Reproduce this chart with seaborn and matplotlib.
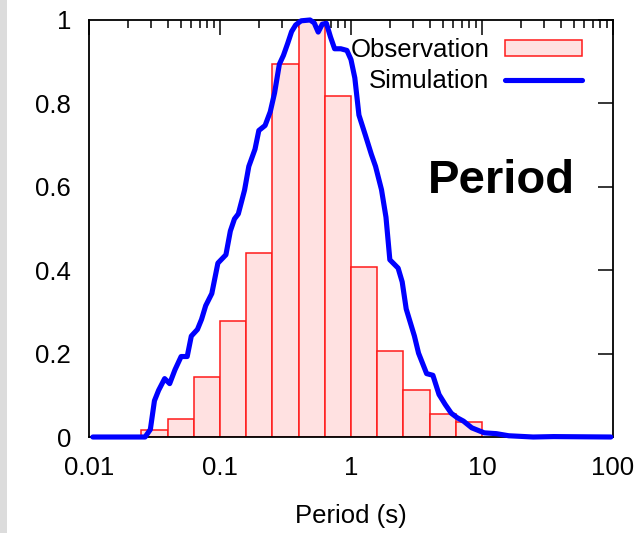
import numpy as np
import pandas as pd
import matplotlib
matplotlib.use("Agg")
import matplotlib.pyplot as plt
from matplotlib.patches import Rectangle
from matplotlib.ticker import FixedLocator, LogLocator, NullFormatter
import seaborn as sns

# Observed period histogram: bin edges (s) and normalised heights
obs_edges = [0.0251, 0.0398, 0.0631, 0.1, 0.158, 0.251, 0.398, 0.631,
             1.0, 1.58, 2.51, 3.98, 6.31, 10.0]
obs_heights = [0.016, 0.044, 0.144, 0.279, 0.442, 0.894, 1.0, 0.817,
               0.408, 0.207, 0.112, 0.056, 0.037]

# Simulated period distribution
sim_period = [0.0107, 0.0268, 0.0294, 0.0316, 0.0340, 0.0378, 0.0413, 0.0453,
              0.0505, 0.0562, 0.0604, 0.0673, 0.0723, 0.0778, 0.0866, 0.0964,
              0.111, 0.120, 0.129, 0.138, 0.154, 0.166, 0.185, 0.198, 0.221,
              0.242, 0.261, 0.284, 0.305, 0.328, 0.352, 0.378, 0.416, 0.487,
              0.524, 0.562, 0.604, 0.649, 0.698, 0.750, 0.836, 0.931, 1.0,
              1.07, 1.15, 1.29, 1.43, 1.54, 1.71, 1.85, 1.98, 2.29, 2.46,
              2.64, 3.05, 3.28, 3.78, 4.22, 4.70, 5.24, 5.83, 6.49, 7.23,
              8.36, 10.4, 12.9, 16.0, 24.6, 35.2, 96.4]
sim_value = [0.0, 0.0, 0.018, 0.087, 0.112, 0.140, 0.128, 0.161,
             0.193, 0.193, 0.242, 0.258, 0.282, 0.315, 0.344, 0.417,
             0.437, 0.494, 0.523, 0.535, 0.592, 0.649, 0.690, 0.735, 0.747,
             0.780, 0.825, 0.894, 0.915, 0.943, 0.972, 0.988, 0.998, 1.0,
             0.993, 0.971, 0.990, 0.992, 0.959, 0.931, 0.931, 0.927, 0.905,
             0.861, 0.772, 0.723, 0.678, 0.649, 0.593, 0.527, 0.425, 0.405, 0.372,
             0.307, 0.242, 0.201, 0.152, 0.148, 0.102, 0.078, 0.057, 0.046, 0.038,
             0.022, 0.010, 0.008, 0.003, 0.0, 0.001, 0.0]

x_ticks = [0.01, 0.1, 1, 10, 100]
x_tick_labels = ["0.01", "0.1", "1", "10", "100"]
y_ticks = [0, 0.2, 0.4, 0.6, 0.8, 1.0]
y_tick_labels = ["0", "0.2", "0.4", "0.6", "0.8", "1"]

sns.set_style("white")
plt.rcParams["font.family"] = ["Liberation Sans", "DejaVu Sans"]
plt.rcParams["text.color"] = "black"
plt.rcParams["axes.labelcolor"] = "black"

FS = 18.5

fig = plt.figure(figsize=(6.43, 5.33), dpi=100)
ax = fig.add_axes([0.1384, 0.1801, 0.9533 - 0.1384, 0.9625 - 0.1801])

# grey strip along the left edge of the canvas
fig.patches.append(Rectangle((0, 0), 7 / 643, 1, transform=fig.transFigure,
                             facecolor="#dcdcdc", edgecolor="none", zorder=-10))

obs = pd.DataFrame({
    "period": np.sqrt(np.array(obs_edges[:-1]) * np.array(obs_edges[1:])),
    "height": obs_heights,
})
log_edges = [float(v) for v in np.log10(obs_edges)]
sns.histplot(data=obs, x="period", weights="height", bins=log_edges,
             log_scale=True, stat="count", element="bars",
             facecolor="#ffe1e1", edgecolor="#ff1a1a", linewidth=1.1,
             alpha=1, label="Observation", ax=ax)

sns.lineplot(x=sim_period, y=sim_value, sort=False, estimator=None,
             color="#0000ff", linewidth=3.7, label="Simulation", ax=ax,
             clip_on=False, zorder=5)

ax.set_xscale("log")
ax.set_xlim(0.01, 100)
ax.set_ylim(0, 1)

ax.xaxis.set_major_locator(FixedLocator(x_ticks))
ax.set_xticklabels(x_tick_labels)
ax.xaxis.set_minor_locator(LogLocator(base=10, subs=np.arange(2, 10)))
ax.xaxis.set_minor_formatter(NullFormatter())
ax.set_yticks(y_ticks)
ax.set_yticklabels(y_tick_labels)

ax.tick_params(axis="both", which="both", direction="in", top=True, right=True,
               labelsize=FS, colors="black")
ax.tick_params(axis="both", which="major", length=11, width=1.1)
ax.tick_params(axis="x", which="minor", length=6, width=1.1)
ax.tick_params(axis="y", which="major", pad=13)
ax.tick_params(axis="x", which="major", pad=14)

for s in ax.spines.values():
    s.set_color("black")
    s.set_linewidth(1.3)

ax.set_xlabel("Period (s)", fontsize=FS, labelpad=17)
ax.set_ylabel("")

ax.text(0.647, 0.615, "Period", transform=ax.transAxes, ha="left", va="center",
        fontsize=34, fontweight="bold")

handles, labels = ax.get_legend_handles_labels()
order = [labels.index("Observation"), labels.index("Simulation")]
ax.legend([handles[i] for i in order], [labels[i] for i in order],
          loc="upper right", bbox_to_anchor=(0.941, 0.957), frameon=False,
          markerfirst=False, fontsize=FS, handlelength=3.0, handleheight=0.6,
          handletextpad=0.6, labelspacing=0.28, borderpad=0, borderaxespad=0)

fig.savefig("out.png", dpi=100)
